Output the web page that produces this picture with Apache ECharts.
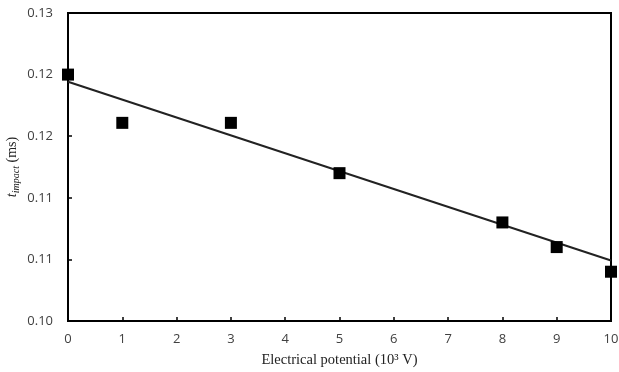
<!DOCTYPE html>
<html><head><meta charset="utf-8">
<script src="https://cdn.jsdelivr.net/npm/echarts@6/dist/echarts.min.js"></script>
<style>html,body{margin:0;padding:0;background:#fff}#c{width:619px;height:372px}</style>
</head><body><div id="c"></div>
<script>
const potential = [0, 1, 3, 5, 8, 9, 10];
const tImpact = [0.1240, 0.1193, 0.1193, 0.1144, 0.1096, 0.1072, 0.1048];
const trendX = [0, 10];
const trendY = [0.1233, 0.1059];
const yTicks = [0.100, 0.106, 0.112, 0.118, 0.124, 0.130];
const xTicks = [0,1,2,3,4,5,6,7,8,9,10];

const chart = echarts.init(document.getElementById('c'));
chart.setOption({
  animation: false,
  grid: {left: 68, right: 8, top: 13, bottom: 51, show: true, borderColor: '#000', borderWidth: 2,
         backgroundColor: 'transparent', containLabel: false, outerBoundsMode: 'none'},
  xAxis: {
    type: 'value', min: 0, max: 10, interval: 1,
    axisLine: {lineStyle: {color: '#000', width: 2}},
    axisTick: {inside: true, length: 4, lineStyle: {color: '#000', width: 1.5}, customValues: xTicks},
    axisLabel: {color: '#404040', fontFamily: 'Open Sans', fontSize: 13, margin: 12, customValues: xTicks},
    splitLine: {show: false},
    name: 'Electrical potential (10³ V)', nameLocation: 'middle', nameGap: 32, nameMoveOverlap: false,
    nameTextStyle: {fontFamily: 'Liberation Serif', fontSize: 14.5, color: '#222'}
  },
  yAxis: {
    type: 'value', min: 0.1, max: 0.13,
    axisLine: {lineStyle: {color: '#000', width: 2}},
    axisTick: {inside: true, length: 4, lineStyle: {color: '#000', width: 1.5}, customValues: yTicks},
    axisLabel: {color: '#404040', fontFamily: 'Open Sans', fontSize: 13, margin: 15, customValues: yTicks,
      formatter: v => v.toFixed(2)},
    splitLine: {show: false},
    name: '{i|t}{s|impact}{n| (ms)}', nameLocation: 'middle', nameGap: 47, nameRotate: 90, nameMoveOverlap: false,
    nameTextStyle: {
      rich: {
        i: {fontFamily: 'Liberation Serif', fontStyle: 'italic', fontSize: 14, color: '#222', lineHeight: 18},
        s: {fontFamily: 'Liberation Serif', fontStyle: 'italic', fontSize: 10, color: '#222', lineHeight: 18, padding: [9, 0, 0, 0]},
        n: {fontFamily: 'Liberation Serif', fontSize: 14, color: '#222', lineHeight: 18}
      }
    }
  },
  series: [
    {type: 'line', data: trendX.map((x, i) => [x, trendY[i]]), symbol: 'none',
     lineStyle: {color: '#222', width: 2}, z: 2},
    {type: 'scatter', data: potential.map((x, i) => [x, tImpact[i]]), symbol: 'rect', symbolSize: 12,
     itemStyle: {color: '#000', opacity: 1}, z: 3}
  ]
});
</script></body></html>
